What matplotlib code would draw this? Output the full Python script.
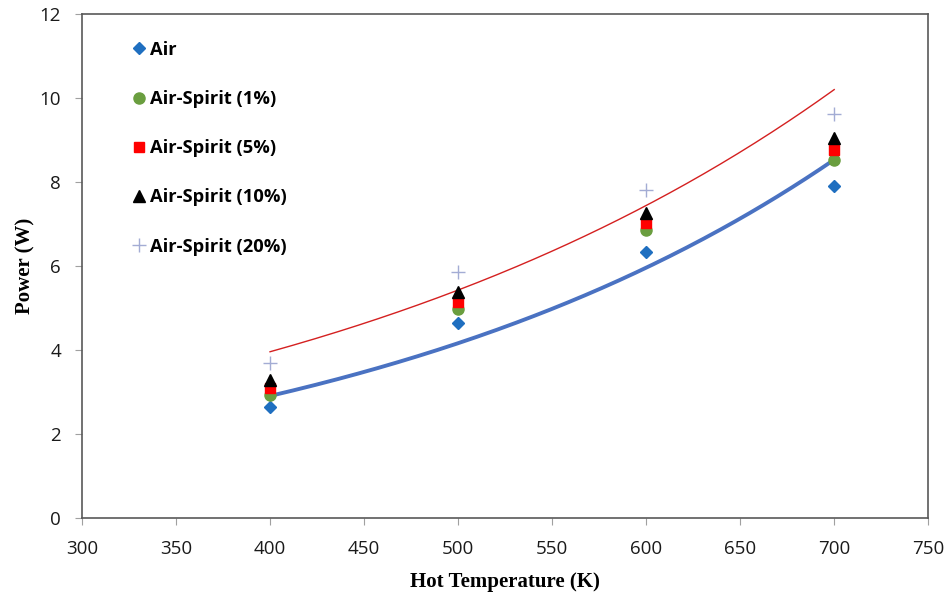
import numpy as np
import matplotlib.pyplot as plt

# hot temperature (K)
temp = [400, 500, 600, 700]

# power (W) for each working fluid
air = [2.65, 4.64, 6.33, 7.90]
spirit_1 = [2.92, 4.98, 6.85, 8.52]
spirit_5 = [3.10, 5.15, 7.02, 8.76]
spirit_10 = [3.28, 5.37, 7.25, 9.05]
spirit_20 = [3.70, 5.86, 7.81, 9.62]

fig = plt.figure(figsize=(9.53, 5.99), dpi=100)
ax = fig.add_axes([0.086, 0.135, 0.888, 0.842])

ax.plot(temp, air, ls='none', marker='D', ms=6.5, color='#1F6FC0', label='Air')
ax.plot(temp, spirit_1, ls='none', marker='o', ms=8, color='#6A9E3F', label='Air-Spirit (1%)')
ax.plot(temp, spirit_5, ls='none', marker='s', ms=7.5, color='#FF0000', label='Air-Spirit (5%)')
ax.plot(temp, spirit_10, ls='none', marker='^', ms=8, color='black', label='Air-Spirit (10%)')
ax.plot(temp, spirit_20, ls='none', marker='+', ms=10, mew=1.0, color='#A3ACD4', label='Air-Spirit (20%)')

# exponential trendlines (Excel style) for Air and Air-Spirit (20%)
xs = np.linspace(temp[0], temp[-1], 200)
b, a = np.polyfit(temp, np.log(air), 1)
ax.plot(xs, np.exp(a + b * xs), color='#4A72C2', lw=2.8, zorder=1.5)
b, a = np.polyfit(temp, np.log(spirit_20), 1)
ax.plot(xs, np.exp(a + b * xs), color='#D42020', lw=1.0, zorder=1.5)

ax.set_xlim(300, 750)
ax.set_ylim(0, 12)
ax.set_xticks(np.arange(300, 751, 50))
ax.set_yticks(np.arange(0, 13, 2))

for s in ax.spines.values():
    s.set_color('#595959')
    s.set_linewidth(1.2)
ax.tick_params(direction='out', length=5, width=0.8, color='#A0A0A0',
               labelsize=13.5, labelcolor='#1a1a1a')
ax.tick_params(axis='x', pad=11)
ax.tick_params(axis='y', pad=10)
for lab in ax.get_xticklabels() + ax.get_yticklabels():
    lab.set_family('Open Sans')

ax.set_xlabel('Hot Temperature (K)', family='Liberation Serif', fontweight='bold',
              fontsize=15, labelpad=10)
ax.set_ylabel('Power (W)', family='Liberation Serif', fontweight='bold',
              fontsize=15, labelpad=3)

ax.legend(loc='upper left', bbox_to_anchor=(0.037, 0.979), frameon=False,
          labelspacing=1.7, handletextpad=0.1, handlelength=1.0,
          prop={'family': 'Open Sans', 'weight': 'bold', 'size': 13.2})

fig.savefig('out.png', dpi=100)
